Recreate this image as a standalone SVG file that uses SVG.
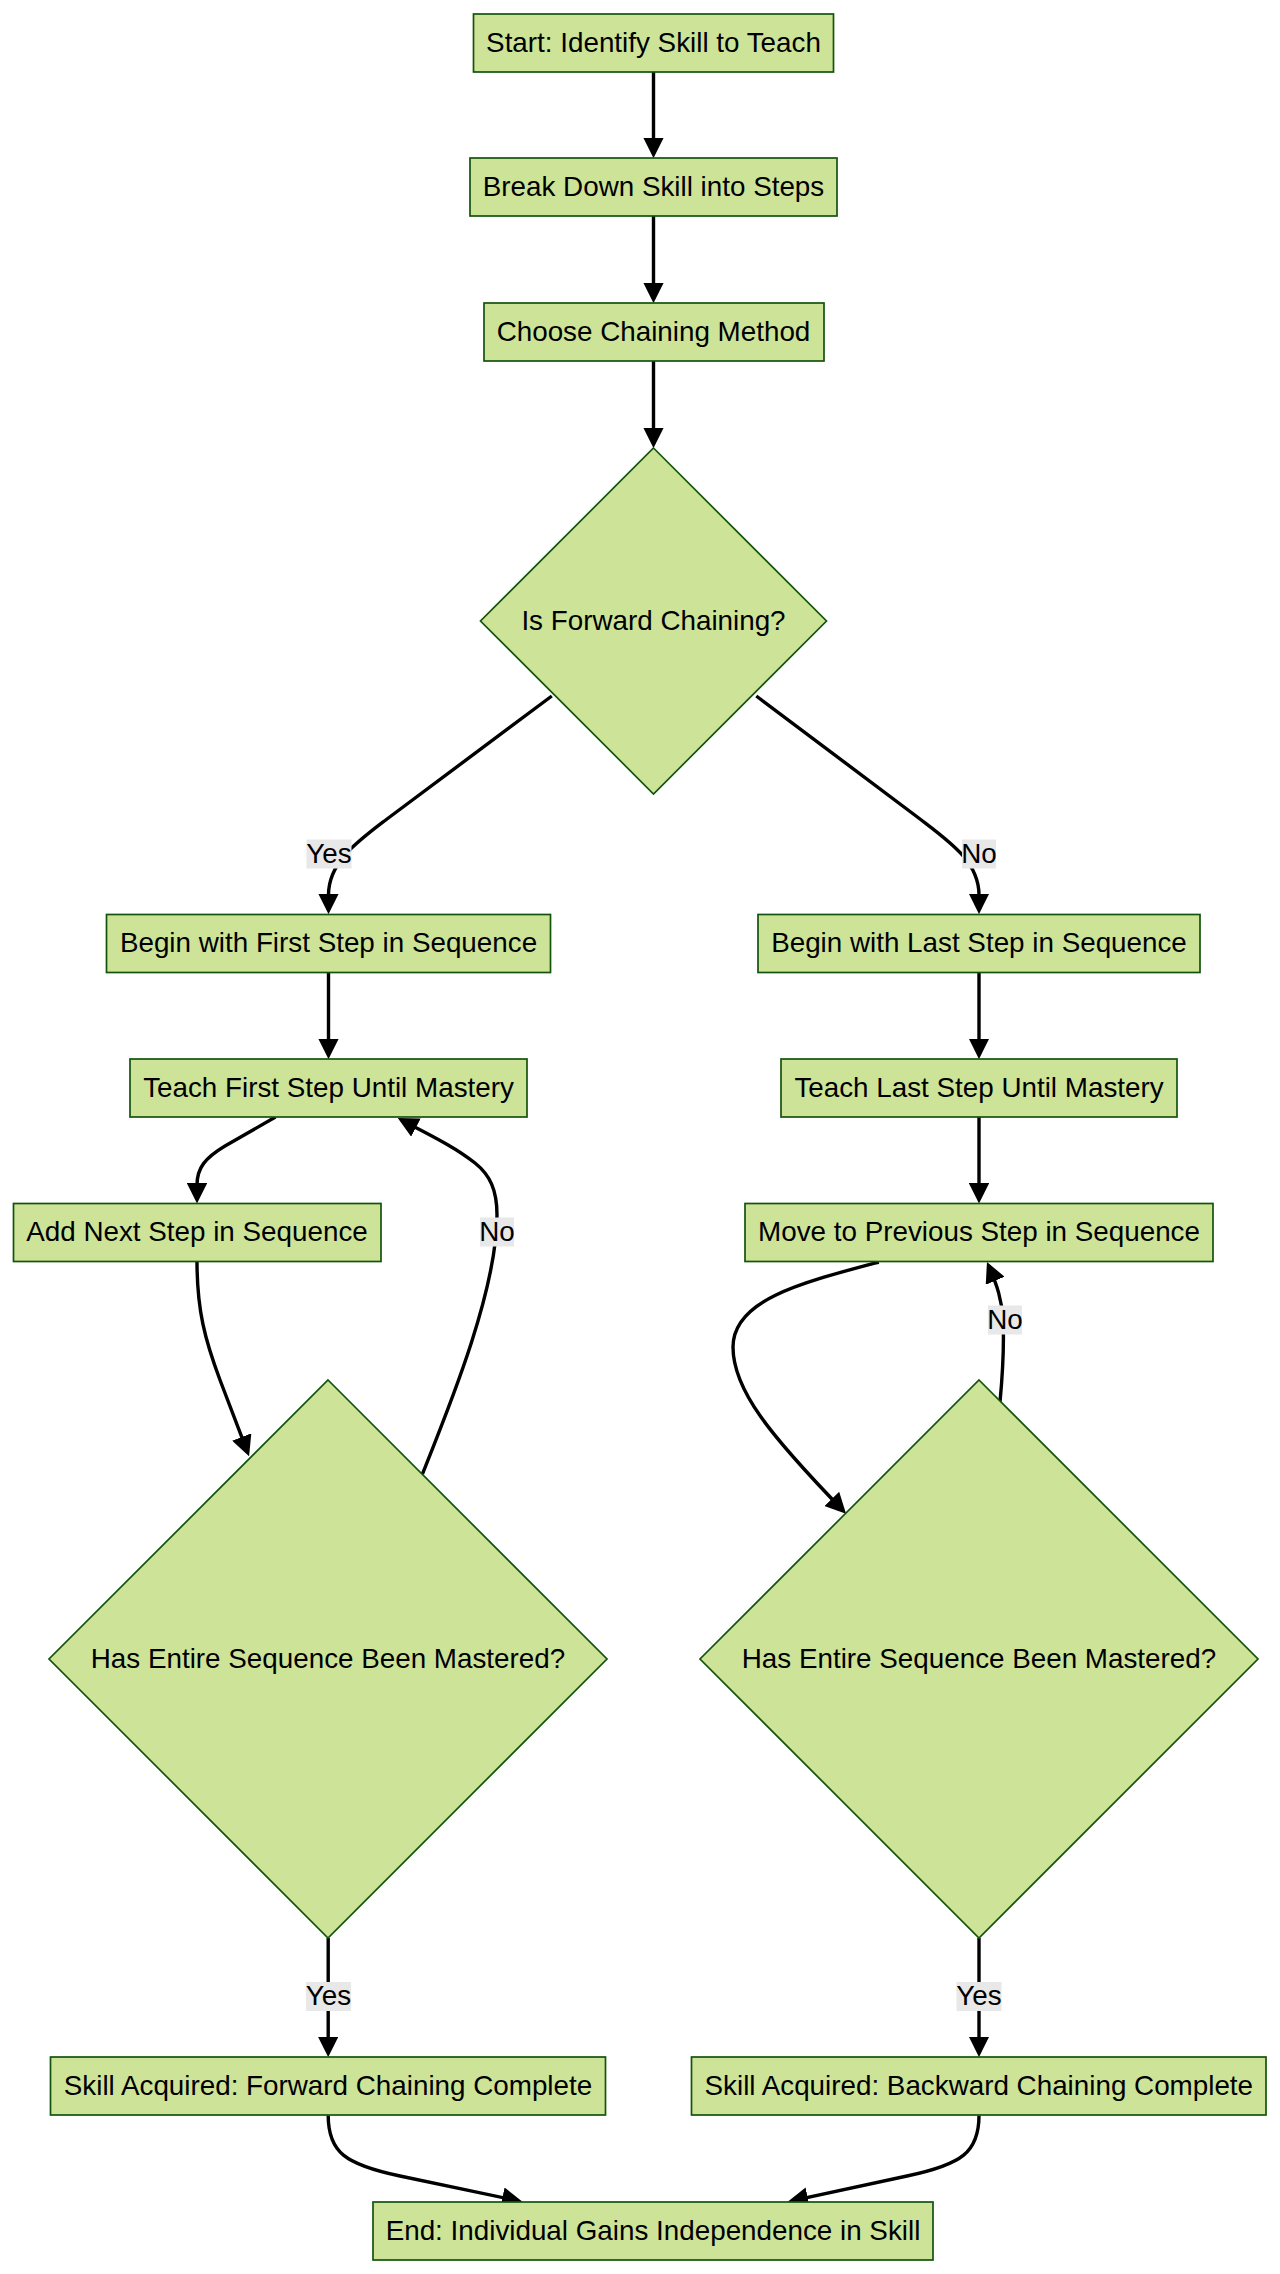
<svg xmlns="http://www.w3.org/2000/svg" width="1280" height="2274" viewBox="0 0 1280 2274">
<style>
.node rect, .node polygon { fill: #cde498; stroke: #13540c; stroke-width: 1.7; }
.node text, .lbl text { font-family: "Liberation Sans", Arial, sans-serif; font-size: 27.8px; fill: #000; text-anchor: middle; }
.edge { fill: none; stroke: #000; stroke-width: 3.4; marker-end: url(#arrow); }
.lbl rect { fill: #e8e8e8; }
</style>
<defs>
<marker id="arrow" viewBox="0 0 10 10" refX="8" refY="5" markerUnits="userSpaceOnUse" markerWidth="20.5" markerHeight="20.5" orient="auto">
<path d="M0,0 L10,5 L0,10 z" fill="#000"/>
</marker>
</defs>
<rect width="1280" height="2274" fill="#fff"/>

<g id="connectors">
<path class="edge" d="M653.5,72 L653.5,154"/>
<path class="edge" d="M653.5,216 L653.5,299"/>
<path class="edge" d="M653.5,361 L653.5,444"/>
<path class="edge" d="M551.8,696 L387,819 C357,842 328.5,862 328.5,895 L328.5,910"/>
<path class="edge" d="M756.3,696 L920,819 C950,842 979,862 979,895 L979,910"/>
<path class="edge" d="M328.5,973 L328.5,1055"/>
<path class="edge" d="M979,973 L979,1055"/>
<path class="edge" d="M275.5,1117 L225,1146 C205,1158 197,1168 197,1185 L197,1199.5"/>
<path class="edge" d="M979,1117 L979,1199.5"/>
<path class="edge" d="M197,1261.5 C197,1310 205,1340 220,1380 L247.6,1452.3"/>
<path class="edge" d="M422.4,1474 C450,1405 497,1290 497,1215 C497,1190 490,1175 475,1163 C455,1147 430,1135 401.4,1120"/>
<path class="edge" d="M878.8,1262 C800,1283 733,1300 733,1347 C733,1390 770,1435 843.2,1510.7"/>
<path class="edge" d="M1000,1402 C1003,1370 1004,1340 1003,1320 C1002,1300 997,1285 988.6,1265.7"/>
<path class="edge" d="M328.2,1938 L328.2,2053"/>
<path class="edge" d="M979,1938 L979,2053"/>
<path class="edge" d="M328.2,2115.5 C328.2,2152 345,2164.5 400,2176 L518.5,2200.9"/>
<path class="edge" d="M979,2115.5 C979,2152 962,2164.5 907,2176 L791.7,2200.9"/>
</g>

<g id="edge-labels">
<g class="lbl"><rect x="306.5" y="839.5" width="45" height="29"/><text x="329" y="862.5">Yes</text></g>
<g class="lbl"><rect x="962" y="839.5" width="34" height="29"/><text x="979" y="862.5">No</text></g>
<g class="lbl"><rect x="480" y="1217.5" width="34" height="29"/><text x="497" y="1240.5">No</text></g>
<g class="lbl"><rect x="988" y="1305.5" width="34" height="29"/><text x="1005" y="1328.5">No</text></g>
<g class="lbl"><rect x="306" y="1982" width="45" height="29"/><text x="328.5" y="2005">Yes</text></g>
<g class="lbl"><rect x="956.5" y="1982" width="45" height="29"/><text x="979" y="2005">Yes</text></g>
</g>

<g id="start" class="node"><rect x="473.5" y="14" width="360" height="58"/><text x="653.5" y="51.5">Start: Identify Skill to Teach</text></g>
<g id="break" class="node"><rect x="470" y="158" width="367" height="58"/><text x="653.5" y="195.5">Break Down Skill into Steps</text></g>
<g id="choose" class="node"><rect x="484" y="303" width="340" height="58"/><text x="653.5" y="340.5">Choose Chaining Method</text></g>
<g id="isForward" class="node"><polygon points="653.5,448 826.5,621 653.5,794 480.5,621"/><text x="653.5" y="629.5">Is Forward Chaining?</text></g>
<g id="beginFirst" class="node"><rect x="106.5" y="914.5" width="444" height="58"/><text x="328.5" y="952">Begin with First Step in Sequence</text></g>
<g id="beginLast" class="node"><rect x="758" y="914.5" width="442" height="58"/><text x="979" y="952">Begin with Last Step in Sequence</text></g>
<g id="teachFirst" class="node"><rect x="130" y="1059" width="397" height="58"/><text x="328.5" y="1096.5">Teach First Step Until Mastery</text></g>
<g id="teachLast" class="node"><rect x="781" y="1059" width="396" height="58"/><text x="979" y="1096.5">Teach Last Step Until Mastery</text></g>
<g id="addNext" class="node"><rect x="13.5" y="1203.5" width="367.5" height="58"/><text x="197" y="1241">Add Next Step in Sequence</text></g>
<g id="movePrev" class="node"><rect x="745" y="1203.5" width="468" height="58"/><text x="979" y="1241">Move to Previous Step in Sequence</text></g>
<g id="masteredF" class="node"><polygon points="328,1380 607,1659 328,1938 49,1659"/><text x="328" y="1668">Has Entire Sequence Been Mastered?</text></g>
<g id="masteredB" class="node"><polygon points="979,1380 1258,1659 979,1938 700,1659"/><text x="979" y="1668">Has Entire Sequence Been Mastered?</text></g>
<g id="skillF" class="node"><rect x="50.5" y="2057" width="555" height="58"/><text x="328" y="2094.5">Skill Acquired: Forward Chaining Complete</text></g>
<g id="skillB" class="node"><rect x="691.5" y="2057" width="574.5" height="58"/><text x="978.8" y="2094.5">Skill Acquired: Backward Chaining Complete</text></g>
<g id="end" class="node"><rect x="373" y="2202" width="560" height="58"/><text x="653" y="2239.5">End: Individual Gains Independence in Skill</text></g>
</svg>
